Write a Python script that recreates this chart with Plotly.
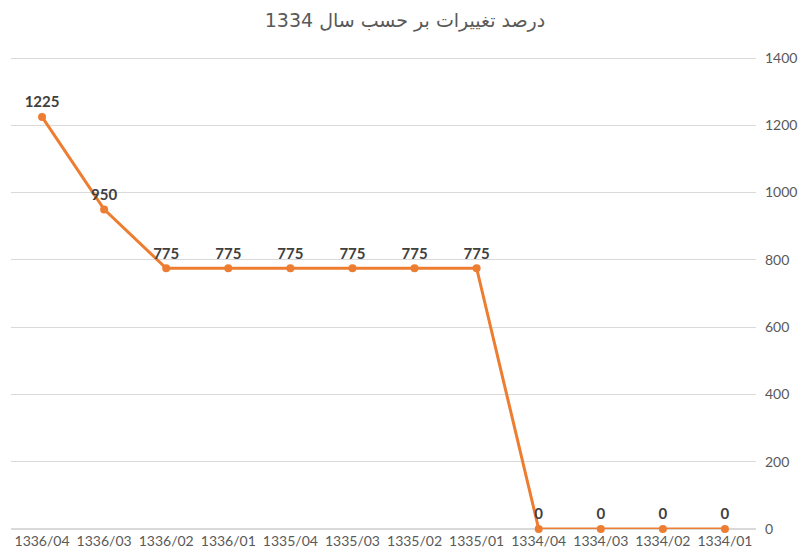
import plotly.graph_objects as go

categories = ["1336/04", "1336/03", "1336/02", "1336/01", "1335/04", "1335/03",
              "1335/02", "1335/01", "1334/04", "1334/03", "1334/02", "1334/01"]
values = [1225, 950, 775, 775, 775, 775, 775, 775, 0, 0, 0, 0]
y_ticks = [0, 200, 400, 600, 800, 1000, 1200, 1400]
title_text = "درصد تغییرات بر حسب سال 1334"

fig = go.Figure()
fig.add_trace(go.Scatter(
    x=categories, y=values, mode="lines+markers+text",
    line=dict(color="#ED7D31", width=3),
    marker=dict(color="#ED7D31", size=8),
    text=[str(v) for v in values], textposition="top center",
    textfont=dict(family="Lato, Open Sans, sans-serif", size=15, color="#404040", weight="bold"),
    cliponaxis=False, showlegend=False,
))
fig.update_layout(
    width=794, height=542,
    paper_bgcolor="white", plot_bgcolor="white",
    margin=dict(l=3, r=46, t=49, b=21, autoexpand=False),
    title=dict(text=title_text, x=0.5, xanchor="center", y=0.978, yanchor="middle",
               font=dict(family="DejaVu Sans, Arial, sans-serif", size=19, color="#595959")),
    xaxis=dict(type="category", range=[-0.5, len(categories) - 0.5],
               showgrid=False, showline=False, zeroline=False, automargin=False,
               tickfont=dict(family="Lato, Open Sans, sans-serif", size=14, color="#595959"),
               ticks="", ticklabelstandoff=2),
    yaxis=dict(side="right", range=[0, 1403], tickvals=y_ticks,
               showgrid=True, gridcolor="#D9D9D9", gridwidth=1, automargin=False,
               zeroline=True, zerolinecolor="#D9D9D9", showline=False,
               tickfont=dict(family="Lato, Open Sans, sans-serif", size=14, color="#595959"),
               ticklabelstandoff=8),
)
fig.write_html("out.html")
